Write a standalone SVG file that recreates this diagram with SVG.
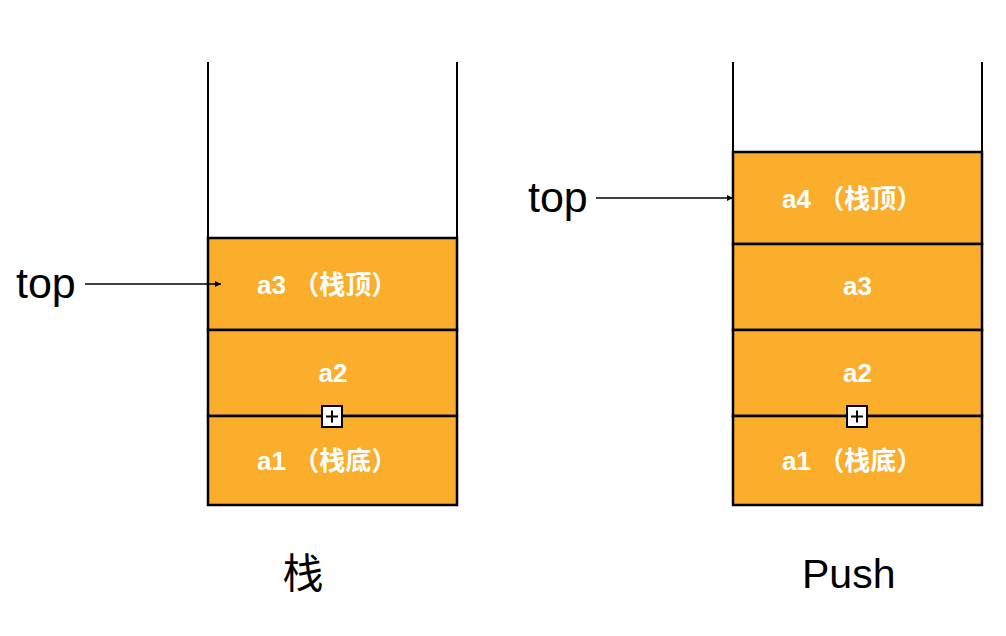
<svg xmlns="http://www.w3.org/2000/svg" width="1006" height="636" viewBox="0 0 1006 636">
<defs>
<style>
.box{fill:#FBAD2C;stroke:#000;stroke-width:2.5}
.wall{stroke:#000;stroke-width:2;fill:none}
.lbl{font-family:"Liberation Sans","Noto Sans CJK SC",sans-serif;font-weight:bold;font-size:26px;fill:#fff}
.big{font-family:"Liberation Sans","Noto Sans CJK SC",sans-serif;font-size:41px;fill:#000}
.conn{stroke:#000;stroke-width:1.5;fill:none}
.plus{fill:#fff;stroke:#000;stroke-width:2}
</style>
<marker id="ah" viewBox="0 0 10 10" refX="10" refY="5" markerWidth="6" markerHeight="6" markerUnits="userSpaceOnUse" orient="auto">
<path d="M0,0 L10,5 L0,10 z" fill="#000"/>
</marker>
</defs>
<rect width="1006" height="636" fill="#fff"/>

<g id="stack-left">
<line class="wall" x1="208" y1="62" x2="208" y2="506"/>
<line class="wall" x1="457" y1="62" x2="457" y2="506"/>
</g>
<g id="left-a3"><rect class="box" x="208" y="238" width="249" height="92"/><text class="lbl" x="257" y="294">a3 （栈顶）</text></g>
<g id="left-a2"><rect class="box" x="208" y="330" width="249" height="86"/><text class="lbl" x="333" y="382" text-anchor="middle">a2</text></g>
<g id="left-a1"><rect class="box" x="208" y="416" width="249" height="89"/><text class="lbl" x="257" y="470">a1 （栈底）</text></g>
<g id="left-plus"><rect class="plus" x="322" y="406" width="20" height="21"/><path d="M326,416.5 H338 M332,410.5 V422.5" stroke="#000" stroke-width="2"/></g>

<g id="stack-right">
<line class="wall" x1="733" y1="62" x2="733" y2="506"/>
<line class="wall" x1="982" y1="62" x2="982" y2="506"/>
</g>
<g id="right-a4"><rect class="box" x="733" y="152" width="249" height="92"/><text class="lbl" x="782" y="208">a4 （栈顶）</text></g>
<g id="right-a3"><rect class="box" x="733" y="244" width="249" height="86"/><text class="lbl" x="857.5" y="295" text-anchor="middle">a3</text></g>
<g id="right-a2"><rect class="box" x="733" y="330" width="249" height="86"/><text class="lbl" x="857.5" y="382" text-anchor="middle">a2</text></g>
<g id="right-a1"><rect class="box" x="733" y="416" width="249" height="89"/><text class="lbl" x="782" y="470">a1 （栈底）</text></g>
<g id="right-plus"><rect class="plus" x="847" y="406" width="20" height="21"/><path d="M851,416.5 H863 M857,410.5 V422.5" stroke="#000" stroke-width="2"/></g>

<g id="top-left"><text class="big" x="16" y="298" style="font-size:43px">top</text></g>
<g id="top-right"><text class="big" x="528" y="212" style="font-size:43px">top</text></g>
<g id="caption-left"><text class="big" x="303" y="588" text-anchor="middle">栈</text></g>
<g id="caption-right"><text class="big" x="802" y="588">Push</text></g>

<g id="connectors">
<line class="conn" x1="85" y1="284" x2="221" y2="284" marker-end="url(#ah)"/>
<line class="conn" x1="596" y1="198" x2="733" y2="198" marker-end="url(#ah)"/>
</g>
</svg>
